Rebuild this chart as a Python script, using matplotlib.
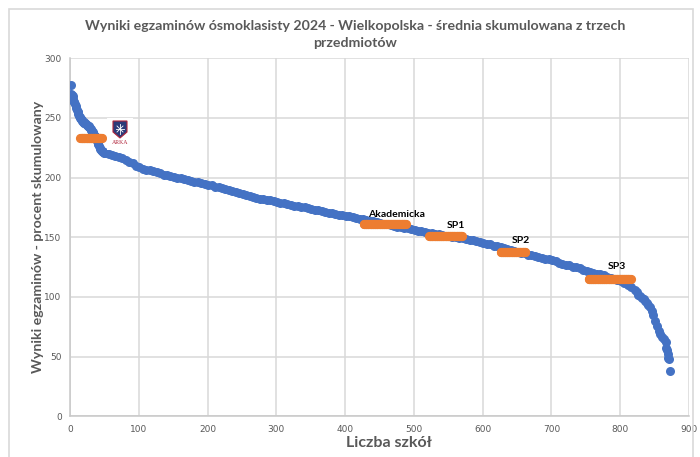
import numpy as np
import matplotlib
matplotlib.use("Agg")
import matplotlib.pyplot as plt
from matplotlib.patches import Rectangle, Polygon

plt.rcParams['font.family'] = ['Lato', 'DejaVu Sans']

# ---------------- data ----------------
# ranking of schools (every 5th school)
rank_start, rank_step = 1, 5
scores = [
    277.5, 263, 255, 249.5, 246, 243.5, 240, 235, 228, 222.5,
    221, 220, 219, 218.5, 217.5, 216.5, 215, 213.5, 212, 210,
    208.5, 207.5, 206.5, 206, 205.5, 204.5, 203.5, 202.5, 202, 201.5,
    200.5, 200, 199.5, 198.5, 198, 197, 196.5, 196, 195.5, 194.5,
    194, 193.5, 192.5, 192, 191, 190.5, 189.5, 189, 188, 187,
    186.5, 185.5, 184.5, 184, 183, 182.5, 182, 181.5, 181, 180.5,
    180, 179, 178.5, 178, 177, 176.5, 176, 175.5, 175, 174.5,
    173.5, 173, 172.5, 172, 171.5, 170.5, 170, 169.5, 169, 168.5,
    168, 167.5, 167, 166.5, 165.5, 165, 164.5, 164, 163.5, 163,
    162, 161.5, 161, 160.5, 159.5, 159, 158.5, 158, 157.5, 157,
    156, 155.5, 155, 154.5, 154, 153.5, 153, 152.5, 152, 151.5,
    151, 150.5, 150, 149.5, 149, 148.5, 148, 147.5, 146.5, 146,
    145.5, 144.5, 144, 143, 142.5, 141.5, 141, 140, 139.5, 138.5,
    138, 137, 136.5, 135.5, 135, 134, 133.5, 132.5, 132, 131.5,
    131, 130, 128.5, 128, 127, 126.5, 125.5, 125, 124, 122.5,
    121.5, 121, 120, 119.5, 119, 118, 117, 116, 115, 114,
    113, 111.5, 110, 108.5, 106, 102, 99, 96.5, 93, 88,
    80, 71.5, 66.5, 62.5,
]
# steep top of the ranking, school by school (ranks 2..50)
head_ranks = list(range(2, 51))
head_scores = [
    270.5, 269.5, 268, 265.5, 263.5, 261.5, 260, 258, 256.5, 255,
    253, 252, 251, 250, 249.5, 248.5, 247.5, 247, 246.5, 246,
    245.5, 245, 244.5, 244, 243.5, 243, 242.5, 242, 241, 240,
    239, 238, 237, 236, 235, 233.5, 232, 230.5, 229, 228,
    226.5, 225, 224, 223, 222.5, 222, 221.5, 221.5, 221,
]
# steep bottom of the ranking
tail_ranks = [824, 829, 834, 839, 843, 848, 853, 858, 863,
              867, 868, 869, 870, 871, 873]
tail_scores = [104, 100.5, 98, 95, 92, 85, 76, 69, 64.5,
               57, 55.5, 52, 49, 48, 38]

# highlighted schools: (label, first rank, last rank, score)
hl_labels = ["", "Akademicka", "SP1", "SP2", "SP3"]
hl_first = [15, 427, 522, 626, 754]
hl_last = [46, 488, 570, 662, 815]
hl_score = [233, 161, 151, 137.5, 115]
hl_label_x = [None, 475, 561, 656, 795]
hl_label_y = [None, 169.5, 159.5, 147, 125.5]

x_ticks = [0, 100, 200, 300, 400, 500, 600, 700, 800, 900]
y_ticks = [0, 50, 100, 150, 200, 250, 300]

title = "Wyniki egzaminów ósmoklasisty 2024 - Wielkopolska - średnia skumulowana z trzech\nprzedmiotów"
xlabel = "Liczba szkół"
ylabel = "Wyniki egzaminów - procent skumulowany"

# ---------------- figure ----------------
W, H = 700, 457
fig = plt.figure(figsize=(W / 100, H / 100), dpi=100)
fig.patch.set_facecolor("white")

# outer chart border
fig.add_artist(Rectangle((9 / W, -0.05), (693 - 9) / W, 1 - 9 / H + 0.05,
                         transform=fig.transFigure, fill=False,
                         edgecolor="#d9d9d9", lw=1.2))

ax = fig.add_axes([70 / W, 1 - 416.3 / H, (689 - 70) / W, (416.3 - 58.3) / H])
ax.set_xlim(0, 900)
ax.set_ylim(0, 300)
ax.set_xticks(x_ticks)
ax.set_yticks(y_ticks)
ax.grid(True, color="#d9d9d9", lw=1.1)
ax.set_axisbelow(True)
for s in ["top", "right"]:
    ax.spines[s].set_visible(False)
for s in ["left", "bottom"]:
    ax.spines[s].set_color("#c8c8c8")
    ax.spines[s].set_linewidth(1.1)
ax.tick_params(length=0, labelsize=6.5, colors="#595959", pad=6)
for lab in ax.get_xticklabels() + ax.get_yticklabels():
    lab.set_family(["Liberation Sans Narrow", "DejaVu Sans"])

blue = "#4472C4"
orange = "#ED7D31"
ranks = np.arange(len(scores)) * rank_step + rank_start
for xs, ys in [(ranks, scores), (head_ranks, head_scores),
               (tail_ranks, tail_scores)]:
    ax.plot(xs, ys, "o", color=blue, ms=6.5, mec="none", zorder=3)

for lab, a, b, sc, lx, ly in zip(hl_labels, hl_first, hl_last, hl_score,
                                  hl_label_x, hl_label_y):
    xs = np.arange(a, b + 1)
    ax.plot(xs, np.full(len(xs), sc), "o", color=orange, ms=6.6, mec="none",
            zorder=4)
    if lab:
        ax.text(lx, ly, lab, ha="center", va="center", fontsize=7.5,
                fontweight="bold", color="black", zorder=5)

ax.set_xlabel(xlabel, fontsize=11.5, fontweight="bold", color="#595959",
              labelpad=3)
ax.xaxis.set_label_coords((389 - 70) / 619, -0.056)
ax.set_ylabel(ylabel, fontsize=10.2, fontweight="bold", color="#595959",
              labelpad=0)
fig.text(355 / W, 1 - 34.5 / H, title, ha="center", va="center", fontsize=10.2,
         fontweight="bold", color="#595959", linespacing=1.5)

# logo (ARKA)
lax = fig.add_axes([107 / W, 1 - 150 / H, 26 / W, 32 / H])
lax.set_xlim(0, 26)
lax.set_ylim(0, 32)
lax.axis("off")
lax.add_patch(Rectangle((0, 0), 26, 32, color="white", zorder=0))
shield = Polygon([(6, 29), (20, 29), (20, 18), (13, 12), (6, 18)],
                 closed=True, facecolor="#2b3a78", edgecolor="#b0243a", lw=0.8)
lax.add_patch(shield)
lax.plot([13, 13], [16, 26], color="white", lw=0.6)
lax.plot([9, 17], [21, 21], color="white", lw=0.6)
lax.plot([10, 16], [18, 24], color="white", lw=0.6)
lax.plot([10, 16], [24, 18], color="white", lw=0.6)
lax.text(13, 7, "ARKA", ha="center", va="center", fontsize=4.2,
         color="#b0243a", family=["Liberation Serif", "DejaVu Serif"])

fig.savefig("out.png", dpi=100, facecolor="white")
